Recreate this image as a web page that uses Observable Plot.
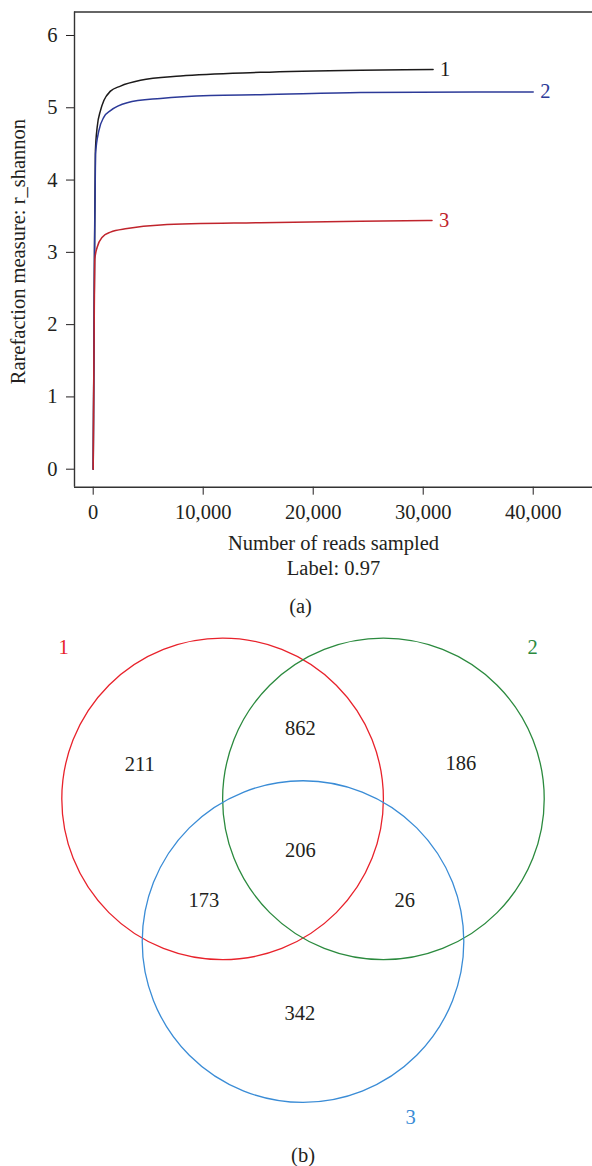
<!DOCTYPE html>
<html>
<head>
<meta charset="utf-8">
<script src="https://cdn.jsdelivr.net/npm/d3@7"></script>
<script src="https://cdn.jsdelivr.net/npm/@observablehq/plot@0.6"></script>
<style>
  html, body { margin: 0; padding: 0; background: #fff; }
  #chart svg { display: block; }
</style>
</head>
<body>
<div id="chart"></div>
<script>
// ---- Panel (a): rarefaction curves ----
const seriesNames = ["1", "2", "3"];
const reads1 = [0, 60, 120, 200, 360, 660, 970, 1570, 2480, 4300, 7940, 15200, 24300, 30900];
const shannon1 = [0, 1.5, 3.0, 4.4, 4.73, 4.96, 5.10, 5.23, 5.30, 5.38, 5.44, 5.49, 5.52, 5.53];
const reads2 = [0, 60, 120, 210, 510, 970, 1570, 3090, 6120, 10660, 15200, 24300, 40000];
const shannon2 = [0, 1.5, 3.0, 4.36, 4.68, 4.87, 4.96, 5.07, 5.13, 5.17, 5.18, 5.21, 5.22];
const reads3 = [0, 50, 100, 150, 360, 820, 1570, 3090, 6120, 15200, 24300, 30800];
const shannon3 = [0, 1.2, 2.2, 2.91, 3.07, 3.21, 3.28, 3.33, 3.38, 3.41, 3.43, 3.44];
const xTicks = [0, 10000, 20000, 30000, 40000];
const yTicks = [0, 1, 2, 3, 4, 5, 6];
const yLabel = "Rarefaction measure: r_shannon";
const xLabel = "Number of reads sampled";
const subLabel = "Label: 0.97";

// ---- Panel (b): Venn diagram (unit = circle radius) ----
const setNames = ["1", "2", "3"];
const setCx = [-0.5, 0.5, 0];
const setCy = [0, 0, -0.887];
const setLabelX = [-1.488, 1.427, 0.669];
const setLabelY = [0.943, 0.943, -1.979];
const regionCounts = [211, 862, 186, 206, 173, 26, 342];
const regionX = [-1.015, -0.016, 0.981, -0.016, -0.617, 0.633, -0.02];
const regionY = [0.212, 0.44, 0.218, -0.321, -0.632, -0.632, -1.336];

const lineColors = ["#1c1a1a", "#2c3a98", "#c0242c"];
const vennColors = ["#e8222b", "#2b8a3e", "#3a8cd6"];
const ink = "#231f20";
const font = "'Liberation Serif', 'DejaVu Serif', serif";

const rows = [];
[[reads1, shannon1], [reads2, shannon2], [reads3, shannon3]].forEach(([xs, ys], i) => {
  xs.forEach((x, j) => rows.push({series: seriesNames[i], reads: x, value: ys[j]}));
});
const ends = seriesNames.map(s => {
  const pts = rows.filter(r => r.series === s);
  return pts[pts.length - 1];
});

const xDomain = [-1700, 45390];
const yDomain = [-0.249, 6.325];

const plotA = Plot.plot({
  width: 592,
  height: 620,
  marginLeft: 74,
  marginRight: 0,
  marginTop: 11.5,
  marginBottom: 133.3,
  style: {fontFamily: font, fontSize: "20.5px", color: ink, background: "white"},
  x: {domain: xDomain, ticks: xTicks, tickFormat: d3.format(","), tickSize: 8, tickPadding: 9, label: null},
  y: {domain: yDomain, ticks: yTicks, tickFormat: d => String(d), tickSize: 8, tickPadding: 9, label: null},
  color: {domain: seriesNames, range: lineColors},
  marks: [
    Plot.ruleY([yDomain[1]], {stroke: "#333", strokeWidth: 1.4}),
    Plot.ruleY([yDomain[0]], {stroke: "#333", strokeWidth: 1.4}),
    Plot.ruleX([xDomain[0]], {stroke: "#333", strokeWidth: 1.4}),
    Plot.line(rows, {x: "reads", y: "value", z: "series", stroke: "series", strokeWidth: 1.5, curve: "monotone-x"}),
    Plot.text(ends, {x: "reads", y: "value", text: "series", fill: "series", textAnchor: "start", dx: 7, fontSize: 20.5}),
    Plot.text([yLabel], {frameAnchor: "left", textAnchor: "middle", lineAnchor: "middle", rotate: -90, dx: -56, dy: 2, fill: ink, fontSize: 20.5}),
    Plot.text([xLabel], {frameAnchor: "bottom", lineAnchor: "middle", dy: 56.6, fill: ink, fontSize: 20.5}),
    Plot.text([subLabel], {frameAnchor: "bottom", lineAnchor: "middle", dy: 81.6, fill: ink, fontSize: 20.5}),
    Plot.text(["(a)"], {frameAnchor: "bottom", lineAnchor: "middle", dx: -33, dy: 119.3, fill: ink, fontSize: 20.5})
  ]
});

const circles = setNames.map((s, i) => ({name: s, x: setCx[i], y: setCy[i], lx: setLabelX[i], ly: setLabelY[i]}));
const regions = regionCounts.map((c, i) => ({count: c, x: regionX[i], y: regionY[i]}));

const plotB = Plot.plot({
  width: 592,
  height: 546,
  margin: 0,
  style: {fontFamily: font, fontSize: "20.5px", color: ink, background: "white"},
  x: {domain: [-1.881, 1.800], axis: null},
  y: {domain: [-2.286, 1.1095], axis: null},
  color: {domain: setNames, range: vennColors},
  marks: [
    Plot.dot(circles, {x: "x", y: "y", r: 160.8, stroke: "name", fill: "none", strokeWidth: 1.3}),
    Plot.text(circles, {x: "lx", y: "ly", text: "name", fill: "name", fontSize: 20.5}),
    Plot.text(regions, {x: "x", y: "y", text: d => String(d.count), fill: ink, fontSize: 20.5}),
    Plot.text(["(b)"], {x: [0], y: [-2.218], text: d => d, fill: ink, fontSize: 20.5})
  ]
});

document.getElementById("chart").append(plotA, plotB);
</script>
</body>
</html>
